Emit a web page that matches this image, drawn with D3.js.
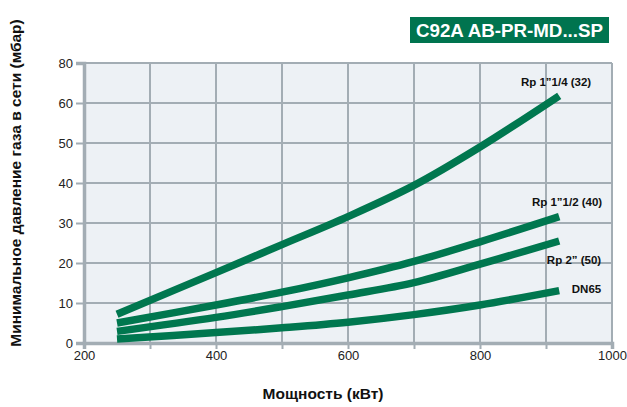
<!DOCTYPE html>
<html>
<head>
<meta charset="utf-8">
<script src="https://cdn.jsdelivr.net/npm/d3@7"></script>
<style>
  html, body { margin: 0; padding: 0; background: #fff; }
  svg { display: block; font-family: "Liberation Sans", Arial, sans-serif; }
</style>
</head>
<body>
<svg id="chart" width="627" height="407"></svg>
<script>
// ---- data ----
const title = "C92A AB-PR-MD...SP";
const xLabel = "Мощность (кВт)";
const yLabel = "Минимальное давление газа в сети (мбар)";
const xTickValues = [200, 400, 600, 800, 1000];
const xGridValues = [200, 300, 400, 500, 600, 700, 800, 900, 1000];
const yTickValues = [0, 10, 20, 30, 40, 50, 60, 70];
const yTickLabels = ["0", "10", "20", "30", "40", "50", "60", "80"];
const power = [250, 400, 500, 600, 700, 800, 920];
const rp114 = [7.2, 17.6, 24.6, 31.6, 39.4, 49.0, 61.8];
const rp112 = [5.0, 9.5, 12.7, 16.3, 20.4, 25.3, 31.6];
const rp2   = [2.9, 6.4, 9.1, 12.0, 15.1, 19.7, 25.5];
const dn65  = [1.0, 2.6, 3.8, 5.2, 7.1, 9.5, 13.1];
const seriesNames = ["Rp 1\u201D1/4 (32)", "Rp 1\u201D1/2 (40)", "Rp 2\u201D (50)", "DN65"];
const seriesValues = [rp114, rp112, rp2, dn65];

// ---- layout ----
const svg = d3.select("#chart");
const x = d3.scaleLinear().domain([200, 1000]).range([84, 612]);
const y = d3.scaleLinear().domain([0, 70]).range([343, 63]);
const green = "#00774f";
const gridCol = "#a3adb4";

// plot background
svg.append("rect")
  .attr("x", x(200)).attr("y", y(70))
  .attr("width", x(1000) - x(200)).attr("height", y(0) - y(70))
  .attr("fill", "#edf1f5");

// vertical grid
svg.append("g").selectAll("line").data(xGridValues).join("line")
  .attr("x1", d => x(d)).attr("x2", d => x(d))
  .attr("y1", y(70)).attr("y2", y(0))
  .attr("stroke", gridCol).attr("stroke-width", 2);

// horizontal grid
svg.append("g").selectAll("line").data(yTickValues).join("line")
  .attr("x1", x(200)).attr("x2", x(1000))
  .attr("y1", d => y(d)).attr("y2", d => y(d))
  .attr("stroke", gridCol).attr("stroke-width", 2);

// y axis
const yAxis = d3.axisLeft(y).tickValues(yTickValues)
  .tickFormat((d, i) => yTickLabels[i]).tickSize(8).tickPadding(3);
const gy = svg.append("g").attr("transform", `translate(${x(200)},0)`).call(yAxis);
gy.select(".domain").attr("stroke", gridCol).attr("stroke-width", 3.5);
gy.selectAll(".tick line").attr("stroke", gridCol).attr("stroke-width", 2);
gy.selectAll(".tick text").attr("font-size", 13).attr("fill", "#222")
  .attr("font-family", "Liberation Sans, Arial, sans-serif");

// x axis
const xAxis = d3.axisBottom(x).tickValues(xGridValues)
  .tickFormat(d => xTickValues.includes(d) ? d : "").tickSize(6).tickPadding(2);
const gx = svg.append("g").attr("transform", `translate(0,${y(0)})`).call(xAxis);
gx.select(".domain").attr("stroke", gridCol).attr("stroke-width", 3.5);
gx.selectAll(".tick line").attr("stroke", gridCol).attr("stroke-width", 2);
gx.selectAll(".tick text").attr("font-size", 13).attr("fill", "#222")
  .attr("font-family", "Liberation Sans, Arial, sans-serif");

// curves
const line = d3.line().x((d, i) => x(power[i])).y(d => y(d)).curve(d3.curveCatmullRom.alpha(0.5));
svg.append("g").selectAll("path").data(seriesValues).join("path")
  .attr("d", d => line(d))
  .attr("fill", "none").attr("stroke", green)
  .attr("stroke-width", 7.5).attr("stroke-linecap", "butt");

// series labels (anchored near line ends)
const labelPos = [
  { dx: 32, dy: -10 },
  { dx: 43, dy: -11 },
  { dx: 42, dy: 23 },
  { dx: 42, dy: 2 }
];
svg.append("g").selectAll("text").data(seriesNames).join("text")
  .attr("x", (d, i) => x(power[power.length - 1]) + labelPos[i].dx)
  .attr("y", (d, i) => y(seriesValues[i][power.length - 1]) + labelPos[i].dy)
  .attr("text-anchor", "end")
  .attr("font-size", 11.5).attr("font-weight", "bold").attr("fill", "#111")
  .text(d => d);

// title box
svg.append("rect").attr("x", 410).attr("y", 17).attr("width", 199).attr("height", 26)
  .attr("fill", "#00744f");
svg.append("text").attr("x", 509.5).attr("y", 37).attr("text-anchor", "middle")
  .attr("font-size", 18).attr("font-weight", "bold").attr("fill", "#fff")
  .attr("textLength", 187).attr("lengthAdjust", "spacingAndGlyphs")
  .text(title);

// axis titles
svg.append("text").attr("x", 323).attr("y", 399).attr("text-anchor", "middle")
  .attr("font-size", 15.5).attr("font-weight", "bold").attr("fill", "#111")
  .text(xLabel);
svg.append("text").attr("transform", "translate(21,183) rotate(-90)")
  .attr("text-anchor", "middle")
  .attr("font-size", 15.5).attr("font-weight", "bold").attr("fill", "#111")
  .text(yLabel);
</script>
</body>
</html>
